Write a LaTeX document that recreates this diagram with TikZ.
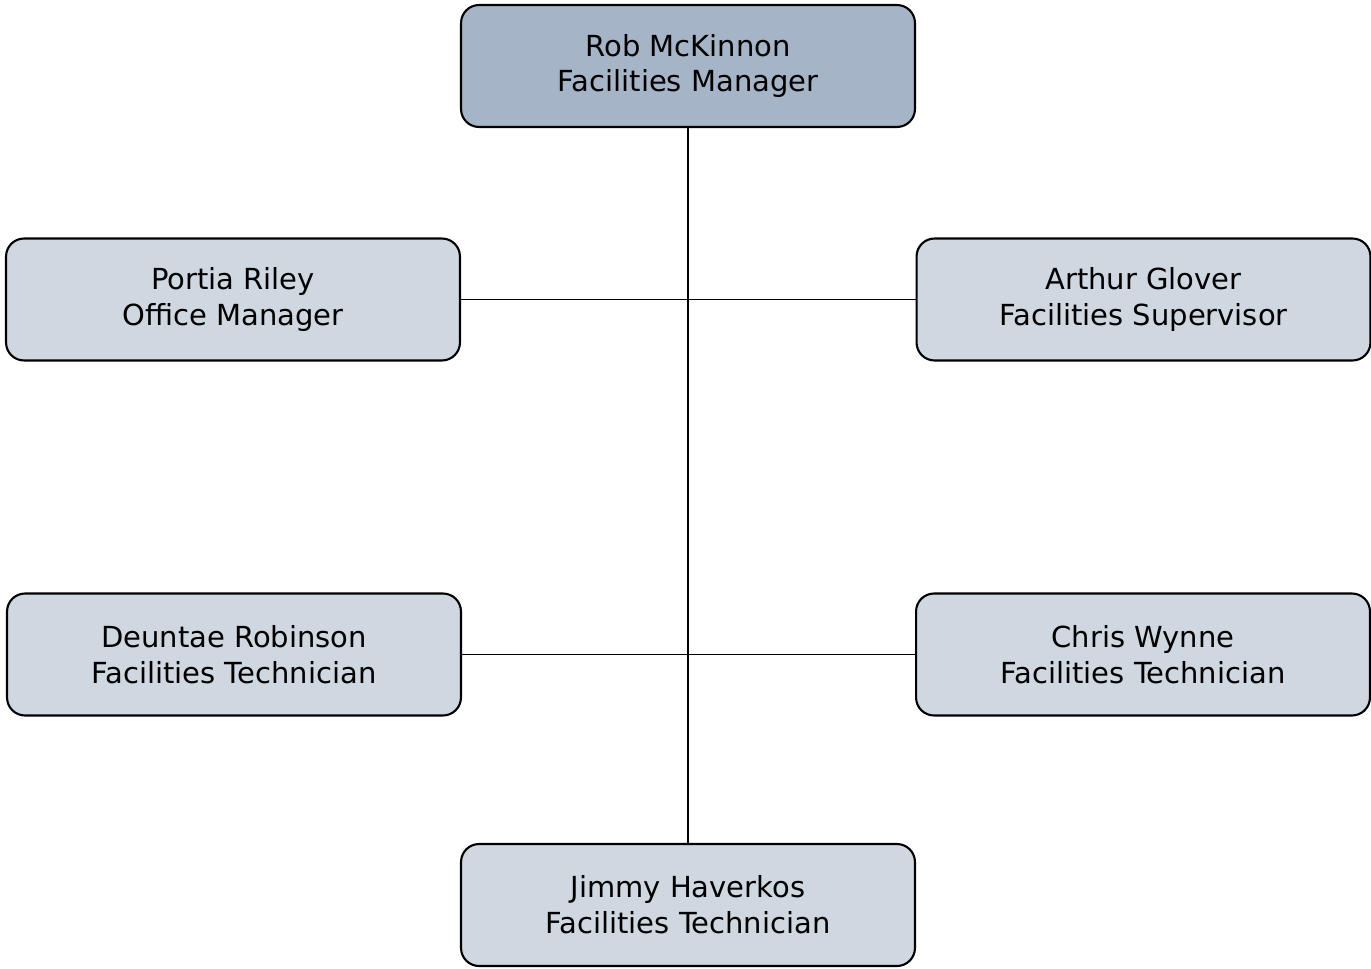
\documentclass[tikz,border=0pt]{standalone}
\usepackage{fontspec}
\setmainfont{DejaVu Sans}
\definecolor{bosscol}{HTML}{A6B4C8}
\definecolor{staffcol}{HTML}{CFD7E1}

\begin{document}
\begin{tikzpicture}[x = 0.02cm, y = -0.02cm,
	person/.style = {draw, line width = 1.2pt, rounded corners = 0.36cm, fill = staffcol, align = center, minimum width = 9.08cm, minimum height = 2.44cm, inner sep = 0pt, font = \fontsize{16.5}{20.4}\selectfont},
	boss/.style = {person, fill = bosscol},
	link/.style = {line width = 0.9pt}]
	
	\useasboundingbox (0, 0) rectangle (1371, 969);
	
	\node [boss] (rob) at (688, 66) {Rob McKinnon\\Facilities Manager};
	
	\node [person] (portia) at (233, 299.5) {Portia Riley\\Office Manager};
	\node [person] (arthur) at (1143.5, 299.5) {Arthur Glover\\Facilities Supervisor};
	
	\node [person] (deuntae) at (234, 654.5) {Deuntae Robinson\\Facilities Technician};
	\node [person] (chris) at (1143, 654.5) {Chris Wynne\\Facilities Technician};
	
	\node [person] (jimmy) at (688, 905) {Jimmy Haverkos\\Facilities Technician};
	
	\draw [link] (rob.south) -- (jimmy.north);
	\draw [link] (portia.east) -- (arthur.west);
	\draw [link] (deuntae.east) -- (chris.west);
	
\end{tikzpicture}
\end{document}
